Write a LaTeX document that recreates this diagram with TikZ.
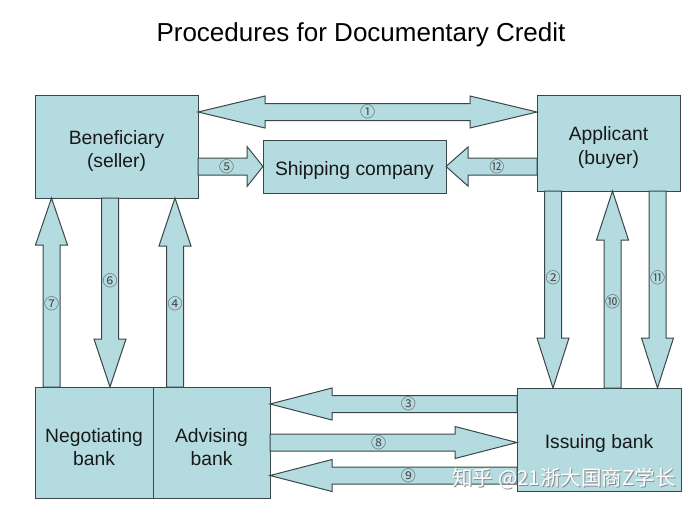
\documentclass[tikz,border=0pt]{standalone}
\usepackage{fontspec}
\setmainfont{Liberation Sans}
\newfontfamily\cjk{Noto Sans CJK SC}
\usetikzlibrary{calc,positioning}

\definecolor{boxfill}{RGB}{180,219,223}
\definecolor{boxline}{RGB}{58,70,72}
\definecolor{numtext}{RGB}{75,75,75}

% block arrow: [head half width] {from} {to} {head length} {label}
\newcommand{\blockarrow}[5][16pt]{%
  \coordinate (ba-s) at (#2);
  \coordinate (ba-e) at (#3);
  \coordinate (ba-h) at ($(ba-e)!#4!(ba-s)$);
  \draw[barrow] ($(ba-s)!8.5pt!90:(ba-e)$) -- ($(ba-h)!8.5pt!90:(ba-e)$)
    -- ($(ba-h)!#1!90:(ba-e)$) -- (ba-e) -- ($(ba-h)!#1!-90:(ba-e)$)
    -- ($(ba-h)!8.5pt!-90:(ba-e)$) -- ($(ba-s)!8.5pt!-90:(ba-e)$) -- cycle;
  \node[num] at ($(ba-s)!.44!(ba-e)$) {#5};
}
% same with a head at both ends
\newcommand{\dblockarrow}[4]{%
  \coordinate (ba-s) at (#1);
  \coordinate (ba-e) at (#2);
  \coordinate (ba-h) at ($(ba-e)!#3!(ba-s)$);
  \coordinate (ba-t) at ($(ba-s)!#3!(ba-e)$);
  \draw[barrow] (ba-s) -- ($(ba-t)!16pt!90:(ba-e)$) -- ($(ba-t)!8.5pt!90:(ba-e)$)
    -- ($(ba-h)!8.5pt!90:(ba-e)$) -- ($(ba-h)!16pt!90:(ba-e)$) -- (ba-e)
    -- ($(ba-h)!16pt!-90:(ba-e)$) -- ($(ba-h)!8.5pt!-90:(ba-e)$)
    -- ($(ba-t)!8.5pt!-90:(ba-e)$) -- ($(ba-t)!16pt!-90:(ba-e)$) -- cycle;
  \node[num] at ($(ba-s)!.5!(ba-e)$) {#4};
}

\begin{document}
\begin{tikzpicture}
[x=1pt,y=-1pt,
box/.style ={rectangle, draw=boxline, line width=1pt, fill=boxfill,
align=center, outer sep=0pt, inner sep=2pt, text height=21.5pt,
font=\fontsize{19.3}{23.5}\selectfont, text=black!90},
box2/.style ={box, text height=46.5pt},
barrow/.style ={draw=boxline, line width=1pt, fill=boxfill, line join=miter},
num/.style ={font=\cjk\fontsize{15}{15}\selectfont, text=numtext, inner sep=0pt}]
\useasboundingbox (0,0) rectangle (693,507);

\node[font=\fontsize{26}{30}\selectfont] (title) at (361,35) {Procedures for Documentary Credit};

% parties
\node[box2, minimum width=163pt, minimum height=103pt] (benef) at (116.5,146.5) {Beneficiary\\(seller)};
\node[box2, minimum width=143pt, minimum height=96pt]  (appl)  at (608.5,143) {Applicant\\(buyer)};
\node[box, minimum width=183pt, minimum height=53pt]   (ship)  at (354.5,166.5) {Shipping company};
\node[box2, minimum width=118pt, minimum height=111pt] (neg)   at (94,442.5) {Negotiating\\bank};
\node[box2, minimum width=117pt, minimum height=111pt, right=0pt of neg] (adv) {Advising\\bank};
\node[box, minimum width=164pt, minimum height=103pt]  (issue) at (599,439.5) {Issuing bank};

% steps
\dblockarrow{[yshift=-17pt]benef.north east}{[yshift=-17pt]appl.north west}{67pt}{①}
\blockarrow[20pt]{benef.east |- ship.west}{ship.west}{16pt}{⑤}
\blockarrow[19.5pt]{appl.west |- ship.east}{ship.east}{22pt}{⑫}
\blockarrow{[xshift=16.5pt]neg.north west}{[xshift=16.5pt]benef.south west}{47pt}{⑦}
\blockarrow{[xshift=75pt]benef.south west}{[xshift=75pt]neg.north west}{48pt}{⑥}
\blockarrow{[xshift=22pt]adv.north west}{[xshift=22pt]adv.north west |- benef.south}{48pt}{④}
\blockarrow{[xshift=16pt]appl.south west}{[xshift=16pt]appl.south west |- issue.north}{50pt}{②}
\blockarrow{[xshift=-68.5pt]issue.north east}{[xshift=-68.5pt]issue.north east |- appl.south}{49pt}{⑩}
\blockarrow{[xshift=-22.5pt]appl.south east}{[xshift=-22.5pt]appl.south east |- issue.north}{50pt}{⑪}
\blockarrow{[yshift=-16pt]issue.north west}{[yshift=-16pt]issue.north west -| adv.east}{62pt}{③}
\blockarrow{adv.east}{adv.east -| issue.west}{62pt}{⑧}
\blockarrow{[yshift=-87.5pt]issue.north west}{[yshift=-87.5pt]issue.north west -| adv.east}{62pt}{⑨}

% watermark
\node[font=\cjk\fontsize{20.5}{20.5}\selectfont, text=black!45] at (565,480) {知乎 @21浙大国商Z学长};
\node[font=\cjk\fontsize{20.5}{20.5}\selectfont, text=white] (mark) at (564,479) {知乎 @21浙大国商Z学长};
\end{tikzpicture}
\end{document}
